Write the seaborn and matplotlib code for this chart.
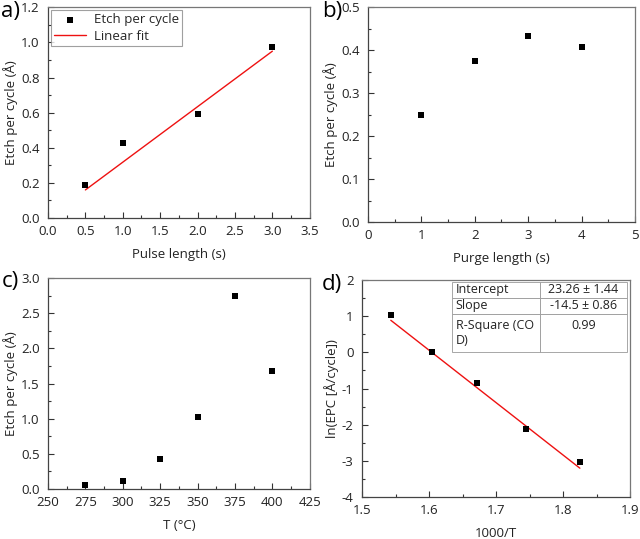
import matplotlib
matplotlib.use("Agg")
import matplotlib.pyplot as plt
from matplotlib.ticker import MultipleLocator
import seaborn as sns

# ---- data ----
pulse_len = [0.5, 1.0, 2.0, 3.0]
pulse_epc = [0.19, 0.43, 0.595, 0.975]
pulse_fit_x = [0.5, 3.0]
pulse_fit_y = [0.16, 0.95]

purge_len = [1, 2, 3, 4]
purge_epc = [0.248, 0.374, 0.432, 0.406]

temp_c = [275, 300, 325, 350, 375, 400]
temp_epc = [0.05, 0.12, 0.43, 1.03, 2.75, 1.68]

inv_t = [1.543, 1.605, 1.672, 1.745, 1.825]
ln_epc = [1.02, 0.02, -0.84, -2.12, -3.03]
fit_intercept = 23.26
fit_slope = -14.5
arr_fit_x = [1.543, 1.825]
arr_fit_y = [fit_intercept + fit_slope * v for v in arr_fit_x]

table_rows = [["Intercept", "23.26 ± 1.44"],
              ["Slope", "-14.5 ± 0.86"],
              ["R-Square (CO\nD)", "0.99\n "]]

sns.set_style("white")
plt.rcParams['font.family'] = ['Open Sans', 'DejaVu Sans']
plt.rcParams['axes.unicode_minus'] = False
plt.rcParams['font.size'] = 9.5

fig = plt.figure(figsize=(6.4, 5.39), dpi=100)
ax_a = fig.add_axes([0.075, 0.5955, 0.409, 0.391])
ax_b = fig.add_axes([0.575, 0.588, 0.417, 0.399])
ax_c = fig.add_axes([0.075, 0.0928, 0.409, 0.391])
ax_d = fig.add_axes([0.5656, 0.0779, 0.419, 0.4026])

txt = "#222222"
FS = 9.5

def style(ax, xlim, ylim, xmaj, ymaj, xlabel, ylabel):
    ax.set_xlim(*xlim)
    ax.set_ylim(*ylim)
    ax.xaxis.set_major_locator(MultipleLocator(xmaj))
    ax.xaxis.set_minor_locator(MultipleLocator(xmaj / 2))
    ax.yaxis.set_major_locator(MultipleLocator(ymaj))
    ax.yaxis.set_minor_locator(MultipleLocator(ymaj / 2))
    ax.tick_params(which='both', direction='in', bottom=True, left=True,
                   top=False, right=False, colors="#333333", labelcolor=txt,
                   labelsize=FS, width=0.8)
    ax.tick_params(axis='x', which='major', pad=5)
    ax.tick_params(axis='y', which='major', pad=6)
    ax.tick_params(which='major', length=4.5)
    ax.tick_params(which='minor', length=2.5)
    for s in ax.spines.values():
        s.set_color("#444444")
        s.set_linewidth(0.9)
    ax.spines['right'].set_color("#777777")
    ax.spines['top'].set_color("#777777")
    ax.set_xlabel(xlabel, fontsize=FS, color=txt, labelpad=7)
    ax.set_ylabel(ylabel, fontsize=FS, color=txt, labelpad=2)

# a)
sns.scatterplot(x=pulse_len, y=pulse_epc, ax=ax_a, marker='s', color='black',
                s=20, linewidth=0, label='Etch per cycle', zorder=3)
sns.lineplot(x=pulse_fit_x, y=pulse_fit_y, ax=ax_a, color='#ee1111', linewidth=1,
             label='Linear fit')
style(ax_a, (0, 3.5), (0, 1.2), 0.5, 0.2, "Pulse length (s)", "Etch per cycle (Å)")
leg = ax_a.legend(loc='upper left', fontsize=FS, frameon=True, fancybox=False,
                  borderaxespad=0.2, handlelength=2.4, borderpad=0.25,
                  labelspacing=0.25, handletextpad=0.6)
leg.get_frame().set_edgecolor("#888888")
leg.get_frame().set_linewidth(0.8)

# b)
sns.scatterplot(x=purge_len, y=purge_epc, ax=ax_b, marker='s', color='black',
                s=20, linewidth=0, zorder=3)
style(ax_b, (0, 5), (0, 0.5), 1, 0.1, "Purge length (s)", "Etch per cycle (Å)")

# c)
sns.scatterplot(x=temp_c, y=temp_epc, ax=ax_c, marker='s', color='black',
                s=20, linewidth=0, zorder=3)
style(ax_c, (250, 425), (0, 3.0), 25, 0.5, "T (°C)", "Etch per cycle (Å)")

# d)
sns.scatterplot(x=inv_t, y=ln_epc, ax=ax_d, marker='s', color='black',
                s=20, linewidth=0, zorder=3)
sns.lineplot(x=arr_fit_x, y=arr_fit_y, ax=ax_d, color='#ee1111', linewidth=1)
style(ax_d, (1.5, 1.9), (-4, 2), 0.1, 1, "1000/T", "ln(EPC [Å/cycle])")
ax_d.xaxis.labelpad = 7

tbl = ax_d.table(cellText=table_rows, bbox=[0.336, 0.668, 0.653, 0.323],
                 cellLoc='left', zorder=5)
tbl.auto_set_font_size(False)
tbl.set_fontsize(9)
heights = [16, 16, 38]
for (r, c), cell in tbl.get_celld().items():
    cell.set_height(heights[r])
    cell.set_width(1.0)
    cell.PAD = 0.04
    cell.set_edgecolor("#999999")
    cell.set_linewidth(0.6)
    cell.get_text().set_color(txt)
    if c == 1:
        cell.get_text().set_horizontalalignment('center')
        cell._loc = 'center'

# panel letters
for lx, ly, lab in [(0.002, 0.998, "a)"), (0.503, 0.998, "b)"),
                    (0.002, 0.498, "c)"), (0.503, 0.492, "d)")]:
    fig.text(lx, ly, lab, fontsize=16, ha='left', va='top', color='black')

fig.savefig("out.png", dpi=100)
